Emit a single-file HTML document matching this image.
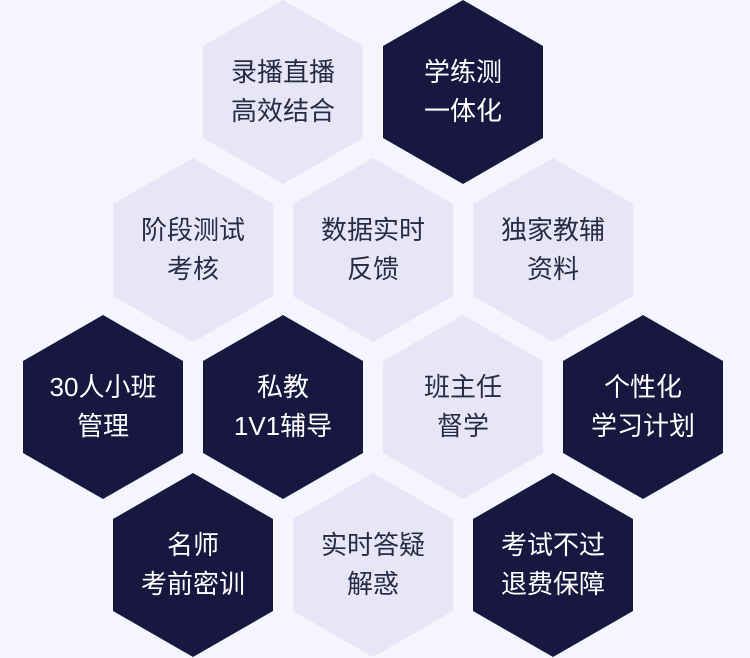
<!DOCTYPE html>
<html><head><meta charset="utf-8"><style>
html,body{margin:0;padding:0;background:#f5f5fd;}
body{width:750px;height:658px;position:relative;overflow:hidden;font-family:"Liberation Sans","Noto Sans CJK SC",sans-serif;}
.h{position:absolute;width:160px;height:184px;clip-path:polygon(50% 0,100% 25%,100% 75%,50% 100%,0 75%,0 25%);display:flex;align-items:center;justify-content:center;text-align:center;font-size:26px;line-height:39px;}
.l{background:#e6e6f6;color:#2a2a44;}
.d{background:#17173f;color:#fff;}
</style></head><body>
<div class="h l" style="left:203px;top:0px">录播直播<br>高效结合</div>
<div class="h d" style="left:383px;top:0px">学练测<br>一体化</div>
<div class="h l" style="left:113px;top:158px">阶段测试<br>考核</div>
<div class="h l" style="left:293px;top:158px">数据实时<br>反馈</div>
<div class="h l" style="left:473px;top:158px">独家教辅<br>资料</div>
<div class="h d" style="left:23px;top:315px">30人小班<br>管理</div>
<div class="h d" style="left:203px;top:315px">私教<br>1V1辅导</div>
<div class="h l" style="left:383px;top:315px">班主任<br>督学</div>
<div class="h d" style="left:563px;top:315px">个性化<br>学习计划</div>
<div class="h d" style="left:113px;top:473px">名师<br>考前密训</div>
<div class="h l" style="left:293px;top:473px">实时答疑<br>解惑</div>
<div class="h d" style="left:473px;top:473px">考试不过<br>退费保障</div>
</body></html>
